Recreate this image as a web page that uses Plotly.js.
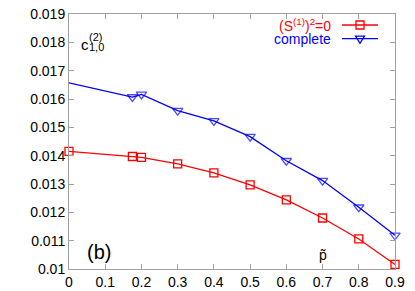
<!DOCTYPE html>
<html>
<head>
<meta charset="utf-8">
<script src="https://cdn.plot.ly/plotly-3.0.1.min.js"></script>
<style>html,body{margin:0;padding:0;background:#fff;}#chart{width:415px;height:291px;}</style>
</head>
<body>
<div id="chart"></div>
<script>
// Data
const pTilde = [0, 0.175, 0.2, 0.3, 0.4, 0.5, 0.6, 0.7, 0.8, 0.9];
const cS1zero = [0.01415, 0.01397, 0.01394, 0.01371, 0.01339, 0.01297, 0.01244, 0.01180, 0.01106, 0.01016];
const cComplete = [0.01657, 0.01607, 0.01616, 0.01559, 0.01523, 0.01467, 0.01382, 0.01312, 0.01218, 0.01119];
const seriesNames = ["(S<sup>(1)</sup>)<sup>2</sup>=0", "complete"];
const yTickVals = [0.01, 0.011, 0.012, 0.013, 0.014, 0.015, 0.016, 0.017, 0.018, 0.019];
const xTickVals = [0, 0.1, 0.2, 0.3, 0.4, 0.5, 0.6, 0.7, 0.8, 0.9];

const RED = '#ff0000', BLUE = '#0000ff', AXC = '#a0a0a0';
const FONT = 'Liberation Sans, Arial, sans-serif';

const traces = [
  {x: pTilde, y: cS1zero, name: seriesNames[0], mode: 'lines+markers', cliponaxis: false,
   line: {color: RED, width: 1.3},
   marker: {symbol: 'square-open', size: 8, color: RED, line: {width: 1.3, color: RED}}},
  {x: pTilde, y: cComplete, name: seriesNames[1], mode: 'lines+markers', cliponaxis: false,
   line: {color: BLUE, width: 1.3},
   marker: {symbol: 'triangle-down-open', size: pTilde.map((v, i) => i === 0 ? 0 : 9), color: BLUE, line: {width: 1.3, color: BLUE}}}
];

// pixel helpers for the hand-drawn key (plot area: l=69, r=20, t=14, b=22)
const L = 69, T = 14, W = 326, H = 255;
const px = v => (v - L) / W;
const py = v => (T + H - v) / H;

const axisCommon = {
  showgrid: false, zeroline: false, showline: true, linecolor: AXC, linewidth: 1,
  mirror: 'ticks', ticks: 'inside', ticklen: 5, tickcolor: AXC, tickwidth: 1,
  tickfont: {family: FONT, size: 14, color: '#000'}
};

const rowY = [25, 38.7];
const keyX0 = 342, keyX1 = 378, keyXm = 360;

const shapes = [];
[RED, BLUE].forEach((c, i) => {
  shapes.push({type: 'line', xref: 'paper', yref: 'paper', x0: px(keyX0), x1: px(keyX1), y0: py(rowY[i]), y1: py(rowY[i]), line: {color: c, width: 1.3}});
});
shapes.push({type: 'rect', xref: 'paper', yref: 'paper', xsizemode: 'pixel', ysizemode: 'pixel',
  xanchor: px(keyXm), yanchor: py(rowY[0]), x0: -4, x1: 4, y0: -4, y1: 4, line: {color: RED, width: 1.3}, fillcolor: 'rgba(0,0,0,0)'});
shapes.push({type: 'path', xref: 'paper', yref: 'paper', xsizemode: 'pixel', ysizemode: 'pixel',
  xanchor: px(keyXm), yanchor: py(rowY[1]), path: 'M -4.5,2.6 L 4.5,2.6 L 0,-4.6 Z', line: {color: BLUE, width: 1.3}});

const annotations = [
  {text: seriesNames[0], xref: 'paper', yref: 'paper', x: px(333), y: py(rowY[0]), xanchor: 'right', yanchor: 'middle', showarrow: false, font: {family: FONT, size: 14, color: RED}},
  {text: seriesNames[1], xref: 'paper', yref: 'paper', x: px(333), y: py(rowY[1]), xanchor: 'right', yanchor: 'middle', showarrow: false, font: {family: FONT, size: 14, color: BLUE}},
  {text: 'c', xref: 'paper', yref: 'paper', x: px(79), y: py(44), xanchor: 'left', yanchor: 'middle', showarrow: false, font: {family: FONT, size: 15, color: '#000'}},
  {text: '1,0', xref: 'paper', yref: 'paper', x: px(87), y: py(47.5), xanchor: 'left', yanchor: 'middle', showarrow: false, font: {family: FONT, size: 11, color: '#000'}},
  {text: '(2)', xref: 'paper', yref: 'paper', x: px(87), y: py(36.5), xanchor: 'left', yanchor: 'middle', showarrow: false, font: {family: FONT, size: 11, color: '#000'}},
  {text: '(b)', xref: 'paper', yref: 'paper', x: px(99), y: py(252), xanchor: 'center', yanchor: 'middle', showarrow: false, font: {family: FONT, size: 20, color: '#000'}},
  {text: 'p\u0303', xref: 'paper', yref: 'paper', x: px(323), y: py(255), xanchor: 'center', yanchor: 'middle', showarrow: false, font: {family: FONT, size: 14, color: '#000'}}
];

const layout = {
  width: 415, height: 291,
  margin: {l: L, r: 20, t: T, b: 22, pad: 0},
  paper_bgcolor: '#fff', plot_bgcolor: '#fff',
  showlegend: false,
  xaxis: Object.assign({}, axisCommon, {range: [0, 0.9], tickvals: xTickVals, ticktext: xTickVals.map(String)}),
  yaxis: Object.assign({}, axisCommon, {range: [0.01, 0.019], tickvals: yTickVals, ticktext: yTickVals.map(String)}),
  shapes: shapes,
  annotations: annotations
};

Plotly.newPlot('chart', traces, layout, {staticPlot: true, displayModeBar: false});
</script>
</body>
</html>
